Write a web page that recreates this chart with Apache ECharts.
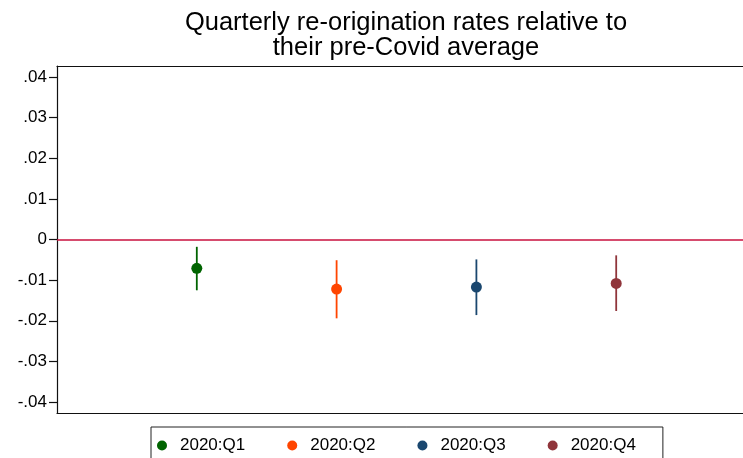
<!DOCTYPE html>
<html>
<head>
<meta charset="utf-8">
<script src="https://cdn.jsdelivr.net/npm/echarts@6/dist/echarts.min.js"></script>
<style>html,body{margin:0;padding:0;background:#fff}#c{width:743px;height:458px}</style>
</head>
<body>
<div id="c"></div>
<script>
var quarters = ['2020:Q1', '2020:Q2', '2020:Q3', '2020:Q4'];
var xPos = [1, 2, 3, 4];
var estimates = [-0.0071, -0.0122, -0.0117, -0.0108];
var upper = [-0.0018, -0.0051, -0.0049, -0.0039];
var lower = [-0.0125, -0.0194, -0.0186, -0.0176];
var yTicks = [-0.04, -0.03, -0.02, -0.01, 0, 0.01, 0.02, 0.03, 0.04];
var colors = ['#006400', '#FF4500', '#1A476F', '#90353B'];

var FONT = '"Liberation Sans", Arial, Helvetica, sans-serif';

function fmt(v) {
  if (Math.abs(v) < 1e-9) return '0';
  var s = (Math.round(v * 100) / 100).toFixed(2);
  return s.replace('0.', '.');
}

var series = [];
quarters.forEach(function (q, i) {
  series.push({
    name: q + ' ci',
    type: 'custom',
    silent: true,
    data: [[xPos[i], lower[i], upper[i]]],
    renderItem: function (params, api) {
      var p1 = api.coord([api.value(0), api.value(1)]);
      var p2 = api.coord([api.value(0), api.value(2)]);
      return {
        type: 'line',
        shape: { x1: p1[0], y1: p1[1], x2: p2[0], y2: p2[1] },
        style: { stroke: colors[i], lineWidth: 1.8 }
      };
    },
    z: 2
  });
  series.push({
    name: q,
    type: 'scatter',
    data: [[xPos[i], estimates[i]]],
    symbol: 'circle',
    symbolSize: 11,
    itemStyle: { color: colors[i], opacity: 1 },
    z: 3
  });
});
series[0].markLine = {
  silent: true,
  symbol: 'none',
  label: { show: false },
  lineStyle: { color: '#C8103E', width: 1.5, type: 'solid' },
  data: [{ yAxis: 0 }]
};
series[0].z = 1;

var axisLineStyle = { color: '#111', width: 1.2 };
var chart = echarts.init(document.getElementById('c'), null, { renderer: 'canvas' });
chart.setOption({
  animation: false,
  backgroundColor: '#fff',
  title: {
    text: 'Quarterly re-origination rates relative to\ntheir pre-Covid average',
    left: 406,
    top: 10,
    padding: 0,
    textAlign: 'center',
    textStyle: { fontFamily: FONT, fontSize: 25.5, fontWeight: 'normal', color: '#000', lineHeight: 25 }
  },
  grid: {
    left: 57, right: 0, top: 66, bottom: 45,
    show: false
  },
  legend: {
    data: quarters,
    left: 151,
    top: 427,
    orient: 'horizontal',
    padding: [10, 27, 14, 6],
    itemGap: 42,
    itemWidth: 10,
    itemHeight: 10,
    icon: 'circle',
    borderColor: '#222',
    borderWidth: 1,
    backgroundColor: '#fff',
    textStyle: { fontFamily: FONT, fontSize: 17, color: '#000', padding: [0, 0, 0, 8] }
  },
  xAxis: [{
    type: 'value', min: 0, max: 4.907, position: 'bottom',
    axisLine: { show: true, onZero: false, lineStyle: axisLineStyle },
    axisTick: { show: false }, axisLabel: { show: false },
    splitLine: { show: false }
  }, {
    type: 'value', min: 0, max: 4.907, position: 'top',
    axisLine: { show: true, onZero: false, lineStyle: axisLineStyle },
    axisTick: { show: false }, axisLabel: { show: false },
    splitLine: { show: false }
  }],
  yAxis: {
    type: 'value',
    min: -0.0427, max: 0.0427,
    axisLine: { show: true, lineStyle: axisLineStyle },
    axisTick: { show: true, length: 8, lineStyle: axisLineStyle, customValues: yTicks },
    axisLabel: {
      show: true, margin: 10, color: '#000', fontFamily: FONT, fontSize: 17,
      customValues: yTicks, formatter: function (v) { return fmt(v); }
    },
    splitLine: { show: false }
  },
  series: series
});
</script>
</body>
</html>
